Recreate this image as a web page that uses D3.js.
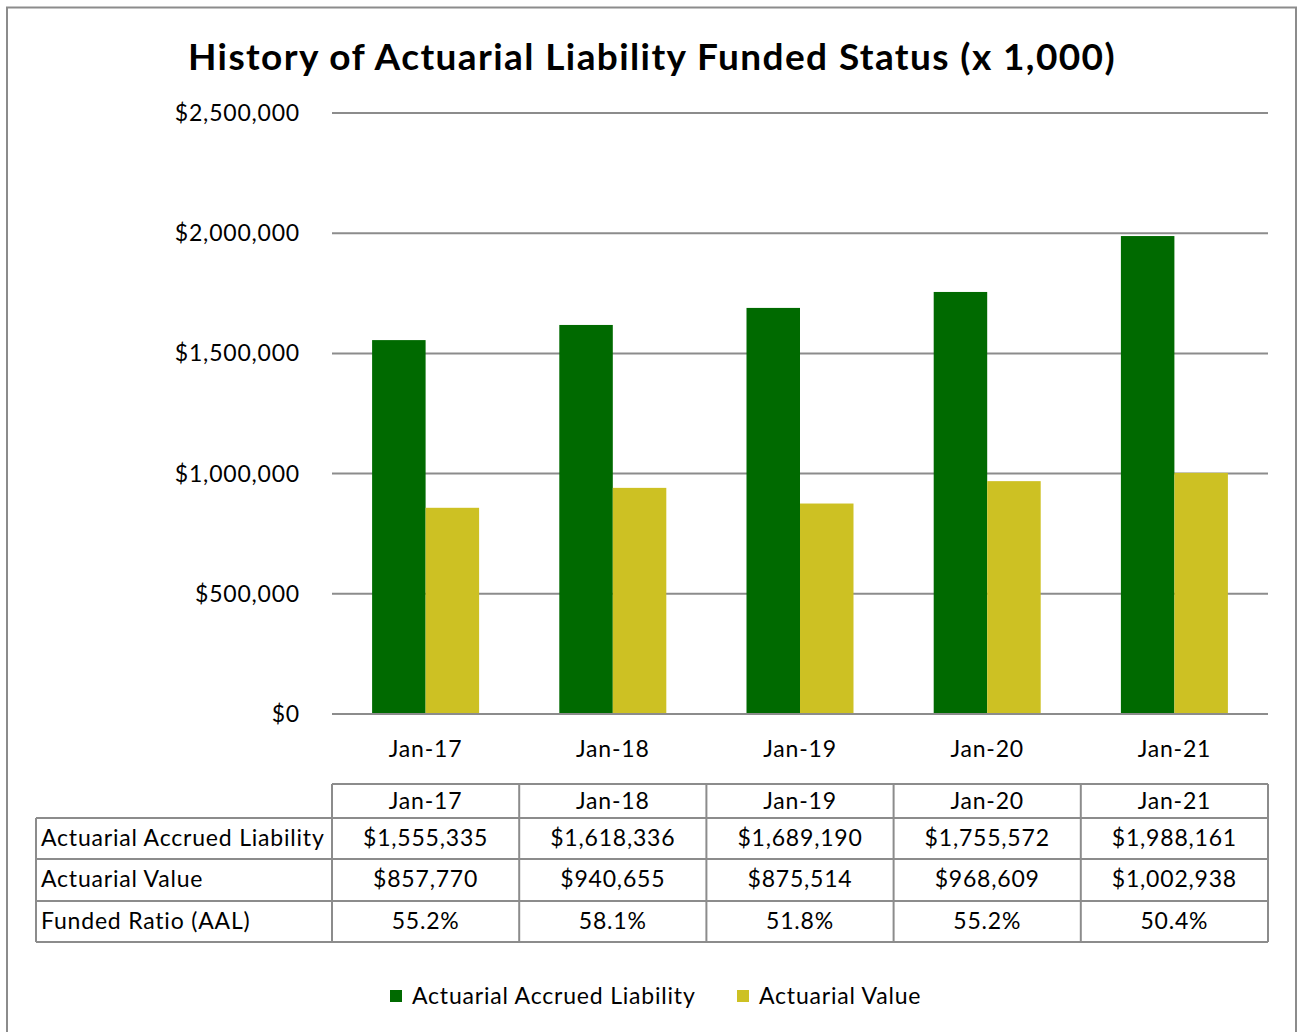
<!DOCTYPE html>
<html>
<head>
<meta charset="utf-8">
<script src="https://cdn.jsdelivr.net/npm/d3@7"></script>
<style>
  body { margin: 0; background: #fff; }
  svg text { font-family: Lato, "Open Sans", sans-serif; fill: #000; font-size: 23px; letter-spacing: 0.8px; }
</style>
</head>
<body>
<svg id="chart" width="1297" height="1032"></svg>
<script>
var categories = ["Jan-17", "Jan-18", "Jan-19", "Jan-20", "Jan-21"];
var seriesNames = ["Actuarial Accrued Liability", "Actuarial Value"];
var liability = [1555335, 1618336, 1689190, 1755572, 1988161];
var actuarialValue = [857770, 940655, 875514, 968609, 1002938];
var fundedRatio = ["55.2%", "58.1%", "51.8%", "55.2%", "50.4%"];
var yTicks = [0, 500000, 1000000, 1500000, 2000000, 2500000];
var colors = ["#006a00", "#cdc123"];

var svg = d3.select('#chart');

// outer frame
svg.append('rect')
  .attr('x', 7).attr('y', 7.5)
  .attr('width', 1289).attr('height', 1040)
  .attr('fill', 'none').attr('stroke', '#8c8c8c').attr('stroke-width', 2);

svg.append('text')
  .attr('x', 652).attr('y', 70)
  .attr('text-anchor', 'middle')
  .style('font-size', '37px').style('letter-spacing', '1.4px').attr('font-weight', 'bold')
  .text('History of Actuarial Liability Funded Status (x 1,000)');

var x = d3.scaleBand().domain(categories).range([332, 1268]);
var y = d3.scaleLinear().domain([0, 2500000]).range([714, 113]);
var inner = d3.scaleBand().domain([0, 1]).range([0, 107]);
var fmt = d3.format('$,');

// gridlines and y labels
var grid = svg.append('g');
grid.selectAll('line').data(yTicks).enter().append('line')
  .attr('x1', 332).attr('x2', 1268)
  .attr('y1', function(d) { return y(d); })
  .attr('y2', function(d) { return y(d); })
  .attr('stroke', '#8c8c8c').attr('stroke-width', 2);
grid.selectAll('text').data(yTicks).enter().append('text')
  .attr('x', 300).attr('y', function(d) { return y(d) + 8; })
  .attr('text-anchor', 'end')
  .text(function(d) { return fmt(d); });

// bars
var groups = svg.selectAll('.grp').data(categories).enter().append('g')
  .attr('class', 'grp')
  .attr('transform', function(d) { return 'translate(' + (x(d) + x.bandwidth() / 2 - 53.5) + ',0)'; });
groups.selectAll('rect').data(function(d, i) { return [liability[i], actuarialValue[i]]; })
  .enter().append('rect')
  .attr('x', function(d, j) { return inner(j); })
  .attr('width', inner.bandwidth())
  .attr('y', function(d) { return y(d); })
  .attr('height', function(d) { return y(0) - y(d); })
  .attr('fill', function(d, j) { return colors[j]; });

// baseline on top of bars
svg.append('line')
  .attr('x1', 332).attr('x2', 1268).attr('y1', y(0)).attr('y2', y(0))
  .attr('stroke', '#8c8c8c').attr('stroke-width', 2);

// x axis labels
svg.selectAll('.xl').data(categories).enter().append('text')
  .attr('class', 'xl')
  .attr('x', function(d) { return x(d) + x.bandwidth() / 2; })
  .attr('y', 757).attr('text-anchor', 'middle')
  .text(function(d) { return d; });

// data table
var rowTops = [784, 818, 859, 901, 942];
var rows = [liability.map(fmt), actuarialValue.map(fmt), fundedRatio];
var table = svg.append('g');
var tstroke = '#8c8c8c';
// header row
table.append('line').attr('x1', 332).attr('x2', 1268).attr('y1', rowTops[0]).attr('y2', rowTops[0])
  .attr('stroke', tstroke).attr('stroke-width', 2);
table.selectAll('.hl').data(rowTops.slice(1)).enter().append('line')
  .attr('x1', 36).attr('x2', 1268)
  .attr('y1', function(d) { return d; }).attr('y2', function(d) { return d; })
  .attr('stroke', tstroke).attr('stroke-width', 2);
var colEdges = categories.map(function(d) { return x(d); }).concat([1268]);
table.selectAll('.vl').data(colEdges).enter().append('line')
  .attr('x1', function(d) { return d; }).attr('x2', function(d) { return d; })
  .attr('y1', rowTops[0]).attr('y2', rowTops[4])
  .attr('stroke', tstroke).attr('stroke-width', 2);
table.append('line').attr('x1', 36).attr('x2', 36).attr('y1', rowTops[1]).attr('y2', rowTops[4])
  .attr('stroke', tstroke).attr('stroke-width', 2);

table.selectAll('.th').data(categories).enter().append('text')
  .attr('x', function(d) { return x(d) + x.bandwidth() / 2; })
  .attr('y', 809).attr('text-anchor', 'middle')
  .text(function(d) { return d; });
seriesNames.concat(['Funded Ratio (AAL)']).forEach(function(name, r) {
  var base = (rowTops[r + 1] + rowTops[r + 2]) / 2 + 7;
  table.append('text').attr('x', 41).attr('y', base).text(name);
  table.selectAll('.c' + r).data(rows[r]).enter().append('text')
    .attr('x', function(d, i) { return x(categories[i]) + x.bandwidth() / 2; })
    .attr('y', base).attr('text-anchor', 'middle')
    .text(function(d) { return d; });
});

// legend
var legendX = [390, 737];
var legend = svg.selectAll('.lg').data(seriesNames).enter().append('g')
  .attr('transform', function(d, i) { return 'translate(' + legendX[i] + ',990)'; });
legend.append('rect').attr('width', 12).attr('height', 12)
  .attr('fill', function(d, i) { return colors[i]; });
legend.append('text').attr('x', 22).attr('y', 14)
  .text(function(d) { return d; });
</script>
</body>
</html>
